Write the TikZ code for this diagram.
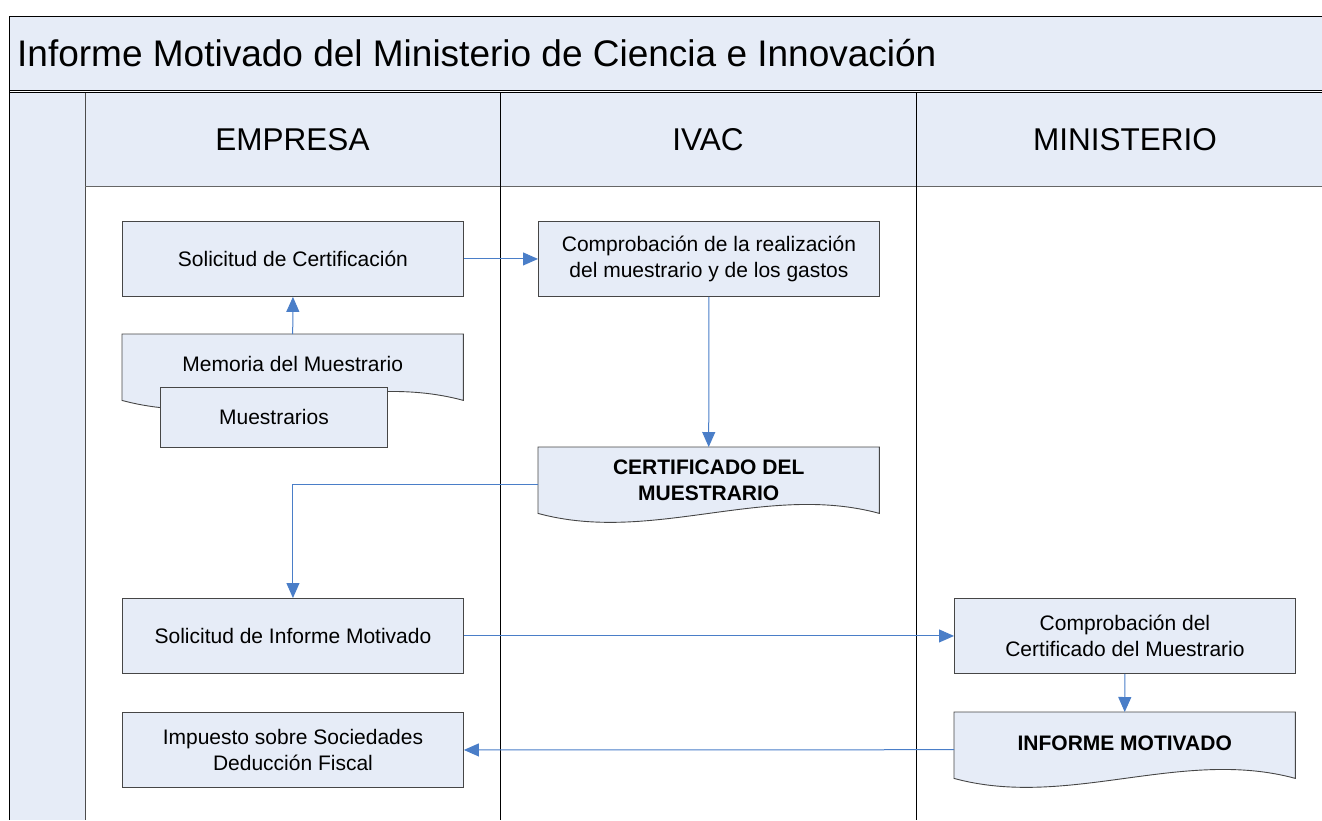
\documentclass[tikz,border=0pt]{standalone}
\usepackage{fontspec}
\setmainfont{Liberation Sans}
\usetikzlibrary{arrows.meta,calc}
\pgfdeclarelayer{bg}
\pgfsetlayers{bg,main}
\definecolor{bandfill}{RGB}{230,236,247}
\definecolor{boxline}{RGB}{70,70,70}
\definecolor{arrowblue}{RGB}{74,126,200}
\tikzset{
  box/.style={draw=boxline, line width=0.9pt, fill=bandfill, minimum width=341pt, minimum height=75pt,
    align=center, inner sep=0pt, anchor=north west, font=\fontsize{21}{26}\selectfont},
  docnode/.style={minimum width=341pt, minimum height=66pt, align=center, inner sep=0pt,
    anchor=north west, font=\fontsize{21}{26}\selectfont},
  docshape/.style={draw=boxline, line width=0.9pt, fill=bandfill},
  arr/.style={draw=arrowblue, line width=1pt, -{Triangle[length=15pt,width=13pt]}},
  frame/.style={draw=black, line width=1pt},
  lane/.style={font=\fontsize{31.5}{36}\selectfont, anchor=center}
}
\newcommand{\docpath}[2]{% node name, half width
  \begin{pgfonlayer}{bg}
  \path[docshape] (#1.north west) -- (#1.north east) -- (#1.south east)
    .. controls ($(#1.south east)+(-#2,-31)$) and ($(#1.south west)+(#2,31)$) .. (#1.south west) -- cycle;
  \end{pgfonlayer}}
\begin{document}
\begin{tikzpicture}[x=1pt,y=-1pt]
\useasboundingbox (0,0) rectangle (1322,820);
% backgrounds
\fill[bandfill] (9,16) rectangle (1322,91);
\fill[bandfill] (9,92) rectangle (85,820);
\fill[bandfill] (85,92) rectangle (1322,186);
% frame lines
\draw[frame] (1322,16) -- (9,16) -- (9,820);
\draw[frame] (9,90) -- (1322,90);
\draw[frame] (9,92.5) -- (1322,92.5);
\draw[draw=black!70, line width=1pt] (85,92.5) -- (85,820);
\draw[draw=black!60, line width=1pt] (85,186) -- (1322,186);
\draw[frame] (500,92.5) -- (500,820);
\draw[frame] (916,92.5) -- (916,820);
% texts
\node[anchor=west, inner sep=0pt, font=\fontsize{37}{42}\selectfont] (title) at (17,53) {Informe Motivado del Ministerio de Ciencia e Innovación};
\node[lane] (hEmp) at (292.5,140) {EMPRESA};
\node[lane] (hIvac) at (708,140) {IVAC};
\node[lane] (hMin) at (1125,140) {MINISTERIO};
% nodes
\node[box] (solcert) at (122,221) {Solicitud de Certificación};
\node[box] (comp) at (538,221) {Comprobación de la realización\\del muestrario y de los gastos};
\node[docnode] (memoria) at (122,334) {\raisebox{6pt}{Memoria del Muestrario}};
\docpath{memoria}{113.7}
\node[box, minimum width=227pt, minimum height=60pt] (muest) at (160,387) {Muestrarios};
\node[docnode, font=\fontsize{21}{26}\bfseries] (cert) at (538,447) {CERTIFICADO DEL\\MUESTRARIO};
\docpath{cert}{113.7}
\node[box] (solinf) at (122,598) {Solicitud de Informe Motivado};
\node[box] (compcert) at (954,598) {Comprobación del\\Certificado del Muestrario};
\node[docnode, font=\fontsize{21}{26}\bfseries] (inf) at (954,712) {\raisebox{5pt}{INFORME MOTIVADO}};
\docpath{inf}{113.7}
\node[box] (imp) at (122,712) {Impuesto sobre Sociedades\\Deducción Fiscal};
% connectors
\draw[arr] (solcert.east) -- (comp.west);
\draw[arr] (memoria.north) -- (solcert.south);
\draw[arr] (comp.south) -- (cert.north);
\draw[arr] ([yshift=-4.5pt]cert.west) -| (solinf.north);
\draw[arr] (solinf.east) -- (compcert.west);
\draw[arr] (compcert.south) -- (inf.north);
\draw[arr] ([yshift=-4.5pt]inf.west) -- (imp.east);
\end{tikzpicture}
\end{document}
